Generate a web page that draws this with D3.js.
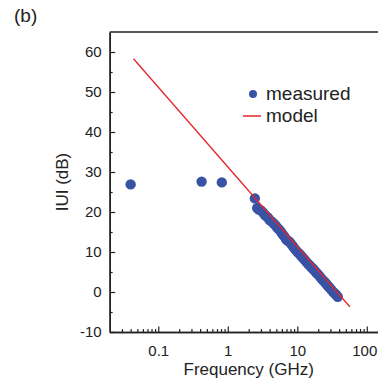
<!DOCTYPE html>
<html>
<head>
<meta charset="utf-8">
<script src="https://cdn.jsdelivr.net/npm/d3@7"></script>
<style>
  body { margin: 0; background: #fff; }
  svg text { font-family: "Liberation Sans", Arial, sans-serif; fill: #222; }
</style>
</head>
<body>
<div id="figure_area"></div>
<script>
// ----- ----- ----- ----- ----- ----- ----- ----- -----
// DATA
// measured |U| (dB) vs frequency (GHz)
var measuredFreq = [0.04, 0.42, 0.82,
    2.45, 2.65, 2.8, 3.0, 3.2, 3.4, 3.6, 3.8, 4.0, 4.3, 4.6, 4.9, 5.2, 5.5, 5.8, 6.1,
    6.5, 6.9, 7.3, 7.7, 8.1, 8.6, 9.1, 9.6, 10.2, 10.8, 11.4, 12.0, 12.7, 13.4, 14.2,
    15.0, 15.9, 16.8, 17.8, 18.8, 19.9, 21.0, 22.2, 23.5, 24.8, 26.2, 27.7, 29.2,
    30.8, 32.5, 34.3, 36.2, 38.2];
var measuredU = [26.9, 27.6, 27.4,
    23.4, 21.0, 20.6, 20.4, 19.9, 19.3, 18.9, 18.6, 18.0, 17.6, 17.1, 16.6, 16.0, 15.6, 15.1, 14.5,
    13.9, 13.2, 12.8, 12.6, 12.1, 11.5, 10.9, 10.4, 9.9, 9.5, 9.0, 8.6, 8.1, 7.6, 7.1,
    6.7, 6.2, 5.8, 5.3, 4.8, 4.4, 3.9, 3.4, 2.9, 2.5, 2.0, 1.5, 1.1,
    0.6, 0.1, -0.3, -0.7, -1.2];

// model line end points
var modelFreq = [0.044, 57];
var modelU = [58.3, -3.7];

// axes
var xMajorTicks = [0.1, 1, 10, 100];
var xMinorTicks = [0.03, 0.04, 0.05, 0.06, 0.07, 0.08, 0.09,
    0.2, 0.3, 0.4, 0.5, 0.6, 0.7, 0.8, 0.9,
    2, 3, 4, 5, 6, 7, 8, 9,
    20, 30, 40, 50, 60, 70, 80, 90];
var yMajorTicks = [-10, 0, 10, 20, 30, 40, 50, 60];
var yMinorTicks = [-5, 5, 15, 25, 35, 45, 55];

var legendLabels = ["measured", "model"];

// ----- ----- ----- ----- ----- ----- ----- ----- -----
// FIGURE
const figure_size = { width: 378, height: 383 };
const plot = { left: 109.7, right: 387.7, top: 32, bottom: 332 };
const blue = "#3953a4";
const red = "#e3262b";

var svg = d3.select("#figure_area")
    .append("svg")
    .attr("width", figure_size.width)
    .attr("height", figure_size.height);

var x_scale = d3.scaleLog()
    .domain([0.02, 200])
    .range([plot.left, plot.right]);

var y_scale = d3.scaleLinear()
    .domain([-10, 65])
    .range([plot.bottom, plot.top]);

// panel label
svg.append("text")
    .attr("x", 14)
    .attr("y", 22)
    .style("font-size", "19px")
    .text("(b)");

// frame top / right
svg.append("path")
    .attr("d", "M" + plot.left + "," + plot.top + "H" + plot.right + "V" + plot.bottom)
    .attr("fill", "none")
    .attr("stroke", "#222")
    .attr("stroke-width", 1.5);

// X axis
function styleAxis(g) {
    g.select(".domain").attr("stroke", "#222").attr("stroke-width", 1.5);
    g.selectAll(".tick line").attr("stroke", "#222").attr("stroke-width", 1.2);
    g.selectAll(".tick text").style("font-size", "15px").attr("fill", "#222");
}

svg.append("g")
    .attr("transform", "translate(0," + plot.bottom + ")")
    .call(d3.axisBottom(x_scale).tickValues(xMinorTicks).tickSize(-3).tickSizeOuter(0).tickFormat(""))
    .call(styleAxis);
var xMajor = svg.append("g")
    .attr("transform", "translate(0," + plot.bottom + ")")
    .call(d3.axisBottom(x_scale).tickValues(xMajorTicks).tickSize(-5.5).tickSizeOuter(0)
        .tickPadding(13).tickFormat(function (d) { return String(d); }))
    .call(styleAxis);
// last label sits on the picture edge
xMajor.selectAll(".tick text")
    .filter(function (d) { return d === 100; })
    .attr("dx", -2.5);

svg.append("text")
    .attr("text-anchor", "middle")
    .attr("x", (plot.left + plot.right) / 2)
    .attr("y", 375)
    .style("font-size", "17px")
    .text("Frequency (GHz)");

// Y axis
svg.append("g")
    .attr("transform", "translate(" + plot.left + ",0)")
    .call(d3.axisLeft(y_scale).tickValues(yMinorTicks).tickSize(-3).tickSizeOuter(0).tickFormat(""))
    .call(styleAxis);
svg.append("g")
    .attr("transform", "translate(" + plot.left + ",0)")
    .call(d3.axisLeft(y_scale).tickValues(yMajorTicks).tickSize(-5.5).tickSizeOuter(0)
        .tickPadding(8).tickFormat(function (d) { return String(d); }))
    .call(styleAxis);

svg.append("text")
    .attr("text-anchor", "middle")
    .attr("transform", "translate(68," + (plot.top + plot.bottom) / 2 + ") rotate(-90)")
    .style("font-size", "17px")
    .text("IUI (dB)");

// measured points
var measured = measuredFreq.map(function (f, i) { return { x: f, y: measuredU[i] }; });
svg.append("g")
    .selectAll("circle")
    .data(measured)
    .enter()
    .append("circle")
    .attr("cx", function (d) { return x_scale(d.x); })
    .attr("cy", function (d) { return y_scale(d.y); })
    .attr("r", 5.2)
    .attr("fill", blue);

// model line
var model = modelFreq.map(function (f, i) { return { x: f, y: modelU[i] }; });
svg.append("path")
    .datum(model)
    .attr("fill", "none")
    .attr("stroke", red)
    .attr("stroke-width", 1.3)
    .attr("d", d3.line()
        .x(function (d) { return x_scale(d.x); })
        .y(function (d) { return y_scale(d.y); })
    );

// legend
svg.append("circle")
    .attr("cx", 253)
    .attr("cy", 94)
    .attr("r", 4)
    .attr("fill", blue);
svg.append("text")
    .attr("x", 266)
    .attr("y", 100)
    .style("font-size", "19px")
    .text(legendLabels[0]);
svg.append("line")
    .attr("x1", 243).attr("x2", 261)
    .attr("y1", 116).attr("y2", 116)
    .attr("stroke", red)
    .attr("stroke-width", 1.5);
svg.append("text")
    .attr("x", 266)
    .attr("y", 122)
    .style("font-size", "19px")
    .text(legendLabels[1]);
</script>
</body>
</html>
